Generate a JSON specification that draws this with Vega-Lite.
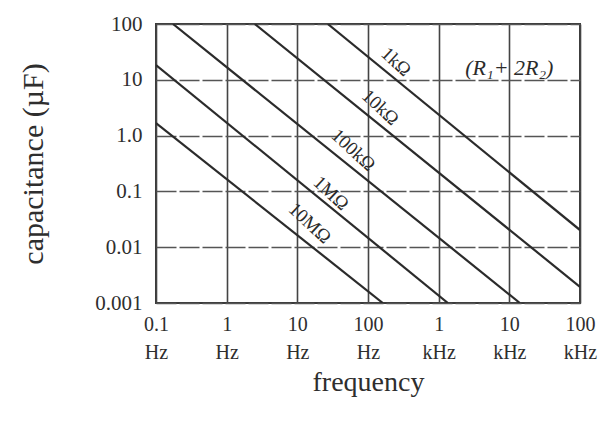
{
  "$schema": "https://vega.github.io/schema/vega-lite/v6.json",
  "width": 424,
  "height": 279,
  "autosize": {"type": "none"},
  "padding": {"left": 156, "top": 24, "right": 28, "bottom": 119},
  "background": "white",
  "config": {
    "view": {"stroke": "#3a3a3a", "strokeWidth": 2},
    "font": "Liberation Serif",
    "axis": {
      "labelFont": "Liberation Serif",
      "titleFont": "Liberation Serif",
      "labelColor": "#2e2e2e",
      "titleColor": "#2e2e2e",
      "titleFontWeight": "normal",
      "domain": false,
      "ticks": false
    }
  },
  "datasets": {
    "curves": [
      {"R": "1kΩ", "f": 27, "c": 100},
      {"R": "1kΩ", "f": 100000, "c": 0.0203},
      {"R": "10kΩ", "f": 2.5, "c": 100},
      {"R": "10kΩ", "f": 100000, "c": 0.00195},
      {"R": "100kΩ", "f": 0.174, "c": 100},
      {"R": "100kΩ", "f": 14100, "c": 0.001},
      {"R": "1MΩ", "f": 0.1, "c": 18.4},
      {"R": "1MΩ", "f": 1350, "c": 0.001},
      {"R": "10MΩ", "f": 0.1, "c": 1.68},
      {"R": "10MΩ", "f": 162, "c": 0.001}
    ],
    "labels": [
      {"text": "1kΩ", "f": 250, "c": 21},
      {"text": "10kΩ", "f": 150, "c": 3.2},
      {"text": "100kΩ", "f": 62, "c": 0.55},
      {"text": "1MΩ", "f": 30, "c": 0.093},
      {"text": "10MΩ", "f": 15, "c": 0.027}
    ],
    "note": [
      {"text": "(R₁+ 2R₂)", "f": 10000, "c": 16.3}
    ]
  },
  "layer": [
    {
      "data": {"name": "curves"},
      "mark": {"type": "line", "color": "#2b2b2b", "strokeWidth": 2.2, "clip": true},
      "encoding": {
        "x": {
          "field": "f", "type": "quantitative",
          "scale": {"type": "log", "domain": [0.1, 100000], "nice": false},
          "axis": {
            "title": "frequency",
            "titleFontSize": 28,
            "titlePadding": 6,
            "values": [0.1, 1, 10, 100, 1000, 10000, 100000],
            "labelExpr": "datum.value < 1000 ? [datum.value < 1 ? '0.1' : format(datum.value, 'd'), 'Hz'] : [format(datum.value / 1000, 'd'), 'kHz']",
            "labelFontSize": 20,
            "labelLineHeight": 28,
            "labelPadding": 11,
            "labelFlush": false,
            "labelOverlap": false,
            "grid": true,
            "gridColor": "#444",
            "gridWidth": 1.6,
            "gridOpacity": 1
          }
        },
        "y": {
          "field": "c", "type": "quantitative",
          "scale": {"type": "log", "domain": [0.001, 100], "nice": false},
          "axis": {
            "title": "capacitance (µF)",
            "titleFontSize": 30,
            "titlePadding": 46,
            "values": [0.001, 0.01, 0.1, 1, 10, 100],
            "labelExpr": "datum.value == 1 ? '1.0' : datum.value == 0.001 ? '0.001' : datum.value == 0.01 ? '0.01' : datum.value == 0.1 ? '0.1' : datum.value == 10 ? '10' : '100'",
            "labelFontSize": 21,
            "labelPadding": 14,
            "labelFlush": false,
            "labelOverlap": false,
            "grid": true,
            "gridColor": "#555",
            "gridWidth": 1.5,
            "gridDash": [20, 3],
            "gridOpacity": 1
          }
        },
        "detail": {"field": "R"}
      }
    },
    {
      "data": {"name": "labels"},
      "mark": {"type": "text", "angle": 43, "fontSize": 19, "color": "#2b2b2b", "font": "Liberation Serif"},
      "encoding": {
        "x": {"field": "f", "type": "quantitative"},
        "y": {"field": "c", "type": "quantitative"},
        "text": {"field": "text"}
      }
    },
    {
      "data": {"name": "note"},
      "mark": {"type": "text", "fontSize": 22, "fontStyle": "italic", "color": "#2b2b2b", "font": "Liberation Serif"},
      "encoding": {
        "x": {"field": "f", "type": "quantitative"},
        "y": {"field": "c", "type": "quantitative"},
        "text": {"field": "text"}
      }
    }
  ]
}
